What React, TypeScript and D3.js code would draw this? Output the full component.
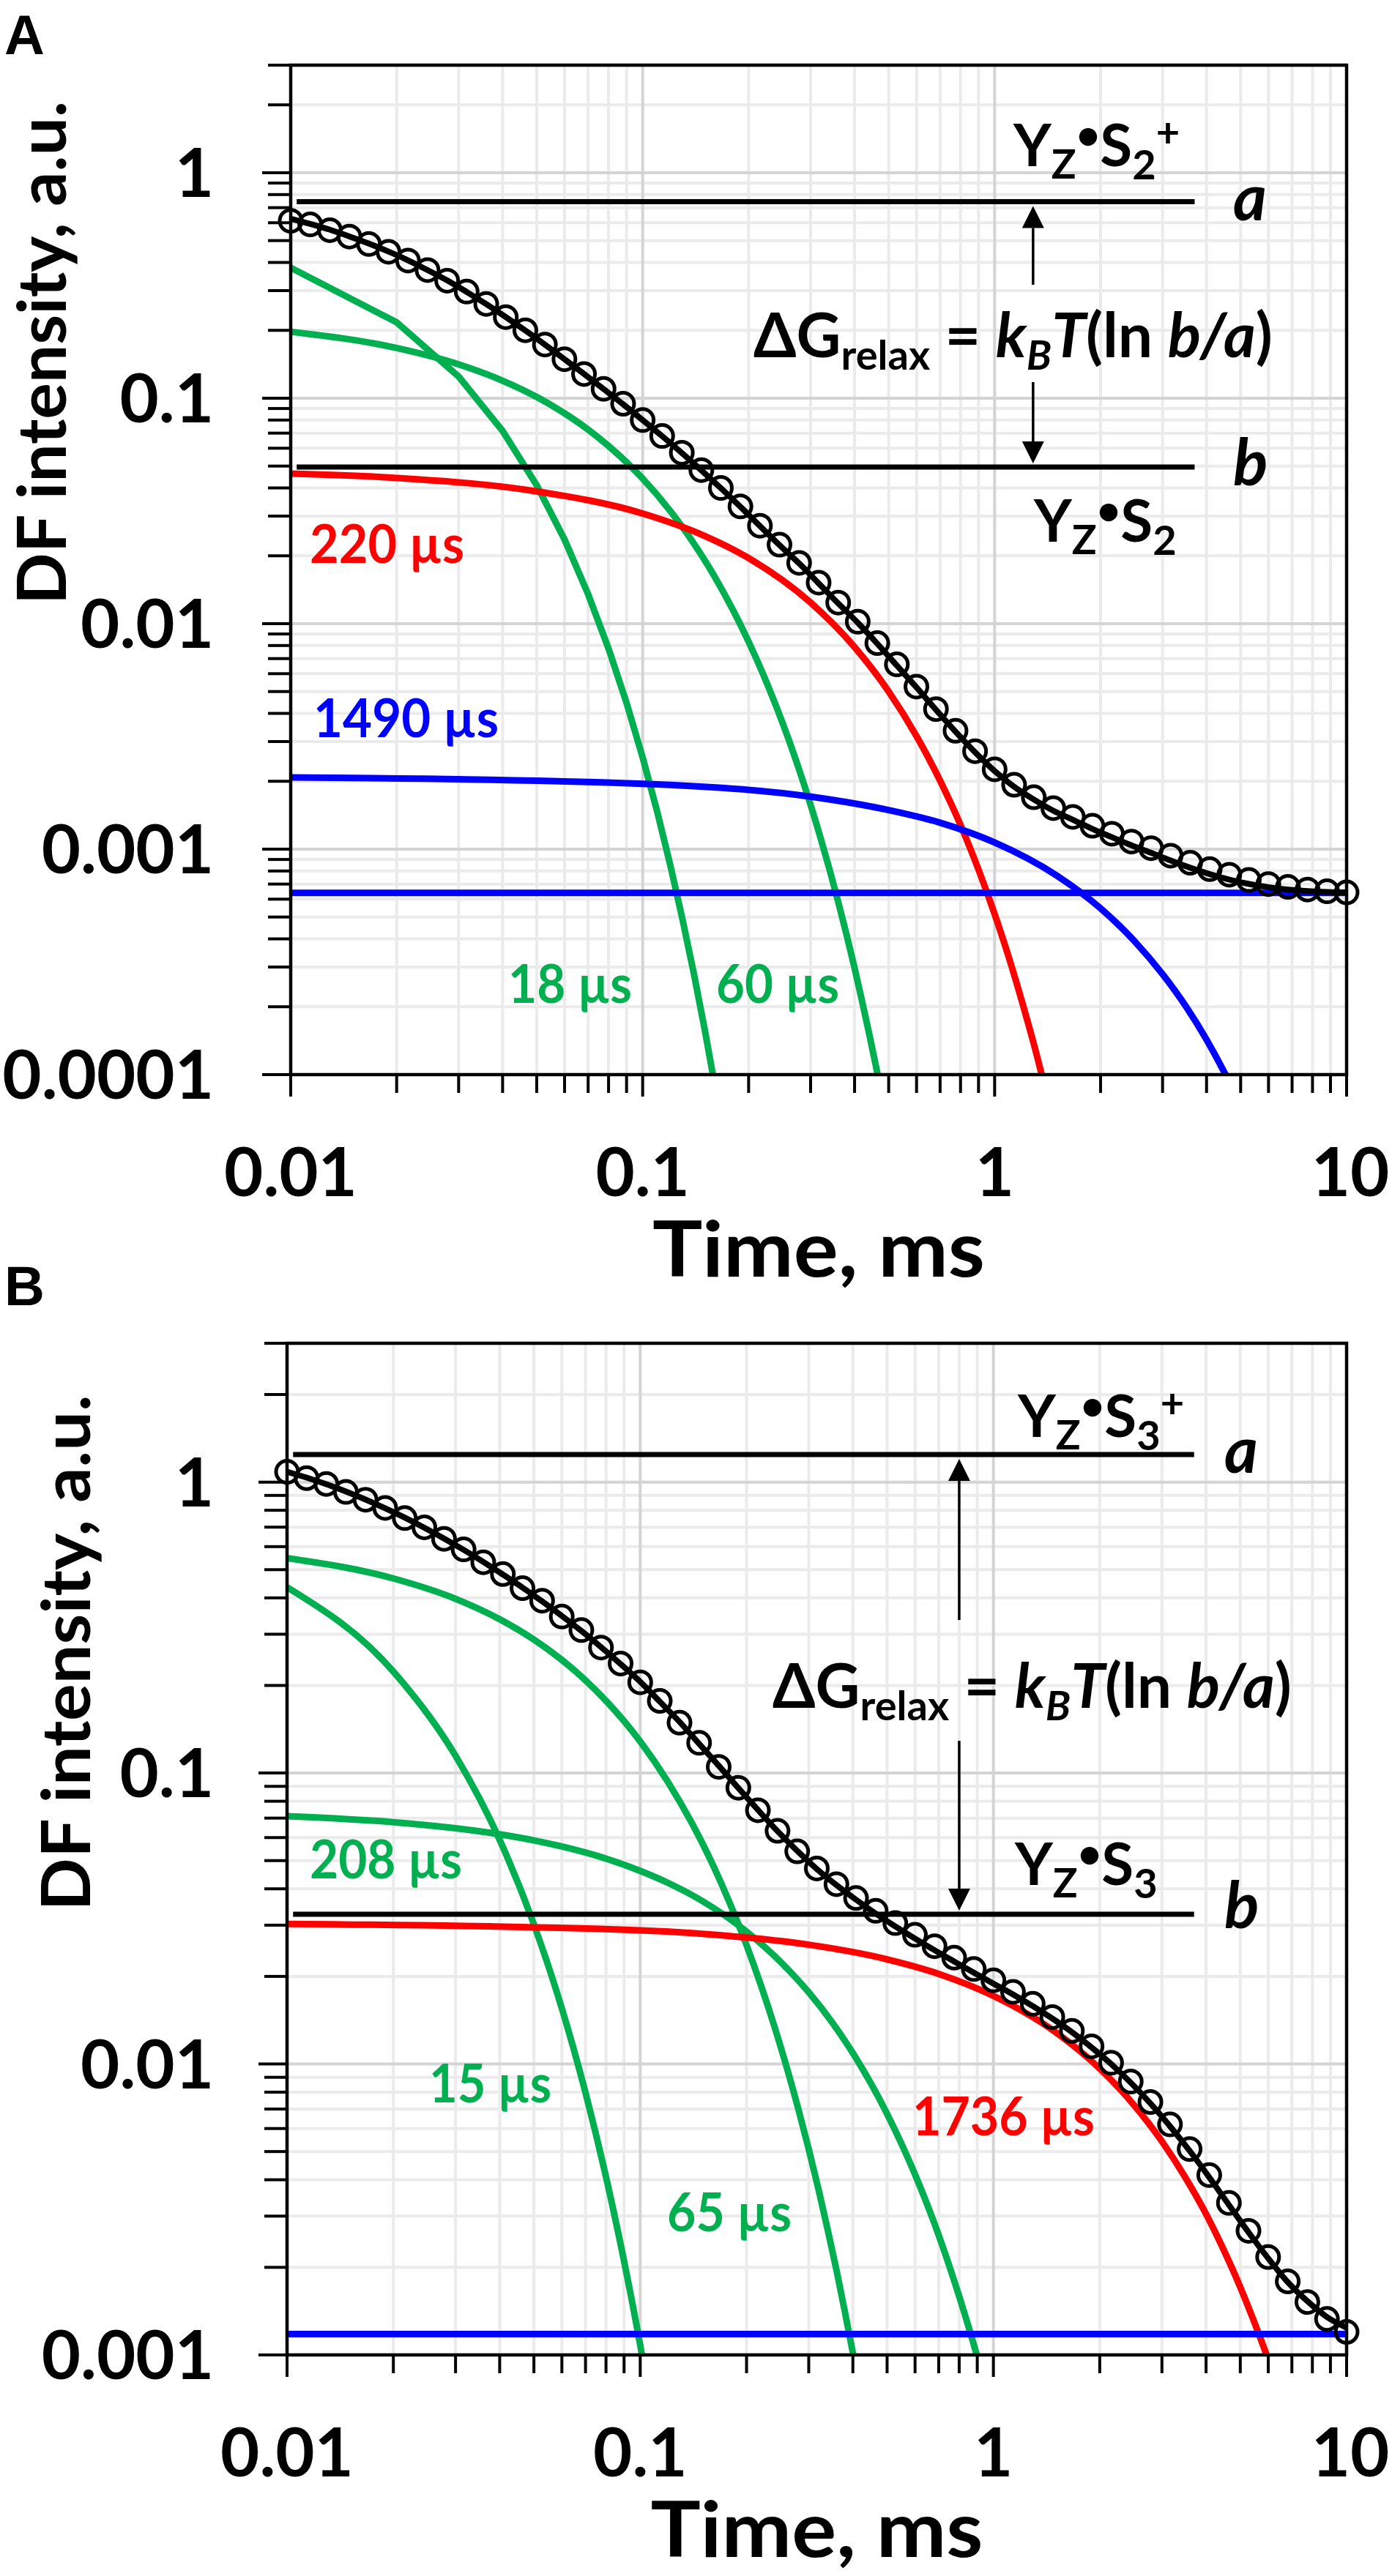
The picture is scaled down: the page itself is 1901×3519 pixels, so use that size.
import React, { useEffect } from 'react';
import * as d3 from 'd3';

const W = 1901;
const H = 3519;

// ---------- data ----------
const timeGrid = [0.01, 0.01136, 0.01292, 0.01468, 0.01668, 0.01896, 0.02154, 0.02448, 0.02783, 0.03162,
  0.03594, 0.04084, 0.04642, 0.05275, 0.05995, 0.06813, 0.07743, 0.08799, 0.1, 0.1136,
  0.1292, 0.1468, 0.1668, 0.1896, 0.2154, 0.2448, 0.2783, 0.3162, 0.3594, 0.4084,
  0.4642, 0.5275, 0.5995, 0.6813, 0.7743, 0.8799, 1.0, 1.136, 1.292, 1.468,
  1.668, 1.896, 2.154, 2.448, 2.783, 3.162, 3.594, 4.084, 4.642, 5.275,
  5.995, 6.813, 7.743, 8.799, 10.0];

const fitA = [0.625, 0.593, 0.559, 0.522, 0.485, 0.447, 0.409, 0.370, 0.333, 0.296,
  0.2615, 0.229, 0.1995, 0.1728, 0.149, 0.1282, 0.1098, 0.094, 0.0800, 0.0679,
  0.0572, 0.0479, 0.0399, 0.0330, 0.0271, 0.0223, 0.0185, 0.0151, 0.0123, 0.0101,
  0.00815, 0.00652, 0.00522, 0.00415, 0.00332, 0.00269, 0.00222, 0.00189, 0.00166, 0.00148,
  0.00135, 0.00123, 0.00113, 0.00104, 0.000963, 0.00089, 0.000827, 0.000775, 0.000733, 0.000701,
  0.000678, 0.000662, 0.000652, 0.000646, 0.000643];

const dataA = [0.612, 0.590, 0.556, 0.521, 0.483, 0.446, 0.408, 0.370, 0.332, 0.297,
  0.262, 0.229, 0.200, 0.173, 0.149, 0.128, 0.110, 0.0945, 0.0800, 0.0680,
  0.0573, 0.0480, 0.0400, 0.0331, 0.0272, 0.0224, 0.0186, 0.0152, 0.0124, 0.0102,
  0.0082, 0.0066, 0.00526, 0.00418, 0.00335, 0.00272, 0.00226, 0.00193, 0.00170, 0.00152,
  0.00139, 0.00127, 0.00117, 0.00108, 0.00101, 0.000935, 0.000870, 0.000815, 0.000770, 0.000730,
  0.000700, 0.000680, 0.000662, 0.000650, 0.000643];

const fitB = [1.085, 1.036, 0.983, 0.928, 0.871, 0.813, 0.755, 0.697, 0.640, 0.585,
  0.532, 0.481, 0.434, 0.389, 0.347, 0.308, 0.271, 0.237, 0.206, 0.176,
  0.150, 0.126, 0.106, 0.0888, 0.0747, 0.0631, 0.0540, 0.0468, 0.0412, 0.0367,
  0.0329, 0.0297, 0.0270, 0.0246, 0.0225, 0.0206, 0.0189, 0.01735, 0.01582, 0.01433,
  0.01287, 0.01141, 0.0100, 0.00863, 0.00732, 0.00611, 0.00503, 0.00408, 0.00328, 0.00264,
  0.00215, 0.00178, 0.00153, 0.00135, 0.00124];

const dataB = [1.085, 1.032, 0.985, 0.925, 0.870, 0.815, 0.752, 0.699, 0.638, 0.587,
  0.530, 0.483, 0.432, 0.391, 0.345, 0.310, 0.270, 0.238, 0.205, 0.177,
  0.149, 0.127, 0.105, 0.0890, 0.0745, 0.0633, 0.0538, 0.0470, 0.0415, 0.0372,
  0.0336, 0.0305, 0.0278, 0.0254, 0.0232, 0.0212, 0.0194, 0.0177, 0.0161, 0.0145,
  0.0130, 0.0115, 0.0101, 0.0087, 0.0074, 0.0062, 0.0051, 0.00415, 0.00333, 0.00267,
  0.00217, 0.00179, 0.00152, 0.00133, 0.00120];

// components, panel A
const compA18: [number, number][] = [[0.01, 0.379], [0.02, 0.217], [0.03, 0.1247], [0.04, 0.0716], [0.05, 0.0411],
  [0.06, 0.0236], [0.07, 0.0135], [0.08, 0.00775], [0.09, 0.00445], [0.1, 0.00255], [0.11, 0.001464],
  [0.12, 0.00084], [0.13, 0.000482], [0.14, 0.000277], [0.15, 0.000159], [0.16, 0.000091]];
const compA60: [number, number][] = [[0.01, 0.197], [0.02, 0.167], [0.03, 0.1413], [0.04, 0.1196], [0.05, 0.1013],
  [0.06, 0.0857], [0.07, 0.0726], [0.08, 0.0614], [0.09, 0.052], [0.1, 0.044], [0.12, 0.0315], [0.14, 0.0226],
  [0.16, 0.0162], [0.18, 0.0116], [0.2, 0.00832], [0.22, 0.00596], [0.24, 0.00427], [0.26, 0.00306],
  [0.28, 0.00219], [0.3, 0.00157], [0.32, 0.001125], [0.34, 0.000806], [0.36, 0.000578], [0.38, 0.000414],
  [0.4, 0.000297], [0.42, 0.000212], [0.44, 0.000152], [0.46, 0.000109], [0.48, 0.0000782]];
const compA220: [number, number][] = [[0.01, 0.0463], [0.02, 0.0443], [0.05, 0.0386], [0.1, 0.0308], [0.15, 0.0245],
  [0.2, 0.01954], [0.3, 0.0124], [0.4, 0.00787], [0.5, 0.005], [0.6, 0.00317], [0.7, 0.00201], [0.8, 0.00128],
  [0.9, 0.000811], [1.0, 0.000515], [1.1, 0.000327], [1.2, 0.000207], [1.3, 0.000132], [1.4, 0.0000836]];
const compA1490: [number, number][] = [[0.01, 0.00208], [0.1, 0.00195], [0.3, 0.00171], [0.5, 0.00149], [0.7, 0.00131],
  [1.0, 0.00107], [1.5, 0.000764], [2.0, 0.000546], [2.5, 0.00039], [3.0, 0.000279], [3.5, 0.0002],
  [4.0, 0.000143], [4.5, 0.000102], [5.0, 0.000073]];

// components, panel B
const compB15: [number, number][] = [[0.01, 0.435], [0.02, 0.2233], [0.03, 0.1146], [0.04, 0.0589], [0.05, 0.0302],
  [0.06, 0.01551], [0.07, 0.00796], [0.08, 0.00409], [0.09, 0.0021], [0.1, 0.00108], [0.11, 0.000553]];
const compB65: [number, number][] = [[0.01, 0.548], [0.02, 0.4664], [0.03, 0.397], [0.04, 0.3378], [0.05, 0.2875],
  [0.06, 0.2447], [0.07, 0.2083], [0.08, 0.1772], [0.09, 0.1508], [0.1, 0.1284], [0.12, 0.0929], [0.14, 0.0673],
  [0.16, 0.0488], [0.18, 0.0353], [0.2, 0.0256], [0.22, 0.01853], [0.24, 0.01342], [0.26, 0.00972],
  [0.28, 0.00704], [0.3, 0.0051], [0.32, 0.00369], [0.34, 0.00267], [0.36, 0.00194], [0.38, 0.0014],
  [0.4, 0.001016], [0.42, 0.000736]];
const compB208: [number, number][] = [[0.01, 0.0711], [0.02, 0.0678], [0.03, 0.0646], [0.04, 0.0616], [0.05, 0.0587],
  [0.06, 0.0559], [0.08, 0.0508], [0.1, 0.0461], [0.12, 0.0419], [0.15, 0.0363], [0.2, 0.0285], [0.25, 0.0224],
  [0.3, 0.01763], [0.35, 0.01387], [0.4, 0.0109], [0.5, 0.00674], [0.6, 0.00417], [0.7, 0.00258],
  [0.8, 0.00159], [0.9, 0.000986], [1.0, 0.00061]];
const compB1736: [number, number][] = [[0.01, 0.0303], [0.1, 0.0288], [0.2, 0.0272], [0.3, 0.0257], [0.5, 0.0229],
  [0.7, 0.0204], [1.0, 0.01714], [1.5, 0.01286], [2.0, 0.00964], [2.5, 0.00723], [3.0, 0.00542],
  [3.5, 0.00406], [4.0, 0.00305], [4.5, 0.00228], [5.0, 0.00171], [5.5, 0.00128], [6.0, 0.000963], [6.5, 0.000722]];

// levels and constants
const levelSpanT: [number, number] = [0.0104, 3.7];
const levelsA = [0.744, 0.0495];
const offsetA = 0.00064;
const arrowTA = 1.286;
const levelsB = [1.244, 0.0327];
const offsetB = 0.00118;
const arrowTB = 0.8;

const xDomain: [number, number] = [0.01, 10];
const yDomainA: [number, number] = [0.0001, 3];
const yDomainB: [number, number] = [0.001, 3];
const xTicks = [0.01, 0.1, 1, 10];
const xTickLabels = ['0.01', '0.1', '1', '10'];
const yTicksA = [1, 0.1, 0.01, 0.001, 0.0001];
const yTickLabelsA = ['1', '0.1', '0.01', '0.001', '0.0001'];
const yTicksB = [1, 0.1, 0.01, 0.001];
const yTickLabelsB = ['1', '0.1', '0.01', '0.001'];

const GREEN = '#00b050';
const RED = '#ff0000';
const BLUE = '#0000ff';
const FONT = "Lato, 'Liberation Sans', Arial, sans-serif";

type Layout = { left: number; right: number; top: number; bottom: number };

function minorValues(lo: number, hi: number) {
  const out: number[] = [];
  for (let e = Math.floor(Math.log10(lo)); e <= Math.ceil(Math.log10(hi)); e++) {
    for (let m = 2; m <= 9; m++) {
      const v = m * Math.pow(10, e);
      if (v > lo * 1.0001 && v < hi * 1.0001) out.push(v);
    }
  }
  return out;
}
function majorValues(lo: number, hi: number) {
  const out: number[] = [];
  for (let e = Math.ceil(Math.log10(lo) - 1e-9); e <= Math.floor(Math.log10(hi) + 1e-9); e++) out.push(Math.pow(10, e));
  return out;
}

type Comp = { pts: [number, number][]; color: string; linear?: boolean };

function Panel(props: {
  id: string; layout: Layout; yDomain: [number, number]; yTicks: number[]; yLabels: string[];
  fit: number[]; data: number[]; comps: Comp[]; levels: number[]; offset: number;
}) {
  const { id, layout, yDomain, yTicks, yLabels, fit, data, comps, levels, offset } = props;
  const x = d3.scaleLog().domain(xDomain).range([layout.left, layout.right]);
  const y = d3.scaleLog().domain(yDomain).range([layout.bottom, layout.top]);
  const xMinor = minorValues(xDomain[0], xDomain[1]);
  const xMajor = majorValues(xDomain[0], xDomain[1]);
  const yMinor = minorValues(yDomain[0], yDomain[1]);
  const yMajor = majorValues(yDomain[0], yDomain[1]);
  const lineMono = d3.line<[number, number]>().x(d => x(d[0])).y(d => y(d[1])).curve(d3.curveMonotoneX);
  const lineLin = d3.line<[number, number]>().x(d => x(d[0])).y(d => y(d[1]));
  const fitPts: [number, number][] = timeGrid.map((t, i) => [t, fit[i]]);
  const clipId = 'clip' + id;
  return (
    <g>
      <defs>
        <clipPath id={clipId}>
          <rect x={layout.left} y={layout.top} width={layout.right - layout.left} height={layout.bottom - layout.top} />
        </clipPath>
      </defs>
      {/* grid */}
      {xMinor.map(v => <line key={'gx' + v} x1={x(v)} x2={x(v)} y1={layout.top} y2={layout.bottom} stroke="#ebebeb" strokeWidth={4} />)}
      {yMinor.map(v => <line key={'gy' + v} y1={y(v)} y2={y(v)} x1={layout.left} x2={layout.right} stroke="#ebebeb" strokeWidth={4} />)}
      {xMajor.map(v => <line key={'Gx' + v} x1={x(v)} x2={x(v)} y1={layout.top} y2={layout.bottom} stroke="#d4d4d4" strokeWidth={4} />)}
      {yMajor.map(v => <line key={'Gy' + v} y1={y(v)} y2={y(v)} x1={layout.left} x2={layout.right} stroke="#d4d4d4" strokeWidth={4} />)}
      <g clipPath={`url(#${clipId})`}>
        {comps.map((c, i) => (
          <path key={'c' + i} d={(c.linear ? lineLin : lineMono)(c.pts) || ''} fill="none" stroke={c.color} strokeWidth={9} strokeLinejoin="round" />
        ))}
        <line x1={x(xDomain[0])} x2={x(xDomain[1])} y1={y(offset)} y2={y(offset)} stroke={BLUE} strokeWidth={9} />
        {levels.map((v, i) => (
          <line key={'lv' + i} x1={x(levelSpanT[0])} x2={x(levelSpanT[1])} y1={y(v)} y2={y(v)} stroke="#000" strokeWidth={7} />
        ))}
        <path d={lineMono(fitPts) || ''} fill="none" stroke="#000" strokeWidth={8} />
      </g>
      {timeGrid.map((t, i) => (
        <circle key={'p' + i} cx={x(t)} cy={y(data[i])} r={15} fill="none" stroke="#000" strokeWidth={5} />
      ))}
      {/* frame */}
      <rect x={layout.left} y={layout.top} width={layout.right - layout.left} height={layout.bottom - layout.top} fill="none" stroke="#000" strokeWidth={4.5} />
      {/* y ticks */}
      {yMinor.map(v => <line key={'ty' + v} x1={layout.left - 31} x2={layout.left} y1={y(v)} y2={y(v)} stroke="#000" strokeWidth={4} />)}
      <line x1={layout.left - 31} x2={layout.left} y1={layout.top} y2={layout.top} stroke="#000" strokeWidth={4} />
      {yMajor.map(v => <line key={'TY' + v} x1={layout.left - 39} x2={layout.left} y1={y(v)} y2={y(v)} stroke="#000" strokeWidth={4} />)}
      {/* x ticks */}
      {xMinor.map(v => <line key={'tx' + v} x1={x(v)} x2={x(v)} y1={layout.bottom} y2={layout.bottom + 25} stroke="#000" strokeWidth={4} />)}
      {xMajor.map(v => <line key={'TX' + v} x1={x(v)} x2={x(v)} y1={layout.bottom} y2={layout.bottom + 30} stroke="#000" strokeWidth={4} />)}
      {/* tick labels */}
      {yTicks.map((v, i) => (
        <text key={'ly' + v} x={292} y={y(v) + 33} textAnchor="end" fontSize={92} fontWeight={700} fontFamily={FONT}>{yLabels[i]}</text>
      ))}
      {xTicks.map((v, i) => (
        <text key={'lx' + v} x={x(v) + (i === 3 ? 5 : 0)} y={layout.bottom + 166} textAnchor="middle" fontSize={92} fontWeight={700} fontFamily={FONT}>{xTickLabels[i]}</text>
      ))}
      <text x={(layout.left + layout.right) / 2} y={layout.bottom + 276} textAnchor="middle" fontSize={106} fontWeight={700} fontFamily={FONT} textLength={454} lengthAdjust="spacingAndGlyphs">Time, ms</text>
    </g>
  );
}

function Arrow({ xp, y1, y2 }: { xp: number; y1: number; y2: number }) {
  // y1 = shaft end, y2 = tip
  const dir = y2 > y1 ? 1 : -1;
  const base = y2 - dir * 30;
  return (
    <g>
      <line x1={xp} x2={xp} y1={y1} y2={base} stroke="#000" strokeWidth={3.5} />
      <polygon points={`${xp},${y2} ${xp - 15},${base} ${xp + 15},${base}`} fill="#000" />
    </g>
  );
}

function Species({ x, y, sub, plus }: { x: number; y: number; sub: string; plus: boolean }) {
  return (
    <text x={x} y={y} fontSize={80} fontWeight={700} fontFamily={FONT} style={{ whiteSpace: 'pre' }}>
      <tspan>Y</tspan>
      <tspan fontSize={56} dy={17}>Z</tspan>
      <tspan fontSize={56} dy={-40}>•</tspan>
      <tspan fontSize={80} dy={23}>S</tspan>
      <tspan fontSize={56} dy={18}>{sub}</tspan>
      {plus ? <tspan fontSize={56} dy={-44}>+</tspan> : null}
    </text>
  );
}

function Eq({ x, y }: { x: number; y: number }) {
  return (
    <text x={x} y={y} fontSize={84} fontWeight={700} fontFamily={FONT} style={{ whiteSpace: 'pre' }}>
      <tspan>ΔG</tspan>
      <tspan fontSize={56} dy={17}>relax</tspan>
      <tspan dy={-17}> = </tspan>
      <tspan fontStyle="italic">k</tspan>
      <tspan fontStyle="italic" fontSize={56} dy={17}>B</tspan>
      <tspan fontStyle="italic" dy={-17}>T</tspan>
      <tspan>(ln </tspan>
      <tspan fontStyle="italic">b/a</tspan>
      <tspan>)</tspan>
    </text>
  );
}

function Label({ x, y, text, color, w }: { x: number; y: number; text: string; color: string; w: number }) {
  return (
    <text x={x} y={y} fontSize={72} fontWeight={700} fontFamily={FONT} fill={color} textLength={w} lengthAdjust="spacingAndGlyphs">{text}</text>
  );
}

const layoutA: Layout = { left: 397, right: 1839, top: 89, bottom: 1468 };
const layoutB: Layout = { left: 392, right: 1839, top: 1835, bottom: 3217 };

export default function App() {
  useEffect(() => {
    document.body.style.margin = '0';
  }, []);
  const xA = d3.scaleLog().domain(xDomain).range([layoutA.left, layoutA.right]);
  const yA = d3.scaleLog().domain(yDomainA).range([layoutA.bottom, layoutA.top]);
  const xB = d3.scaleLog().domain(xDomain).range([layoutB.left, layoutB.right]);
  const yB = d3.scaleLog().domain(yDomainB).range([layoutB.bottom, layoutB.top]);

  return (
    <svg width={W} height={H} viewBox={`0 0 ${W} ${H}`} style={{ display: 'block', background: '#fff' }} fontFamily={FONT}>
      <rect x={0} y={0} width={W} height={H} fill="#fff" />
      {/* Panel A */}
      <text x={6} y={74} fontSize={76} fontWeight={700} fontFamily="'Liberation Sans', Arial, sans-serif">A</text>
      <Panel id="A" layout={layoutA} yDomain={yDomainA} yTicks={yTicksA} yLabels={yTickLabelsA}
        fit={fitA} data={dataA} levels={levelsA} offset={offsetA}
        comps={[
          { pts: compA18, color: GREEN, linear: true },
          { pts: compA60, color: GREEN },
          { pts: compA220, color: RED },
          { pts: compA1490, color: BLUE },
        ]} />
      <text transform="translate(90,482) rotate(-90)" textAnchor="middle" fontSize={92} fontWeight={700} fontFamily={FONT} textLength={688} lengthAdjust="spacingAndGlyphs">DF intensity, a.u.</text>
      <Arrow xp={xA(arrowTA)} y1={389} y2={yA(levelsA[0]) + 6} />
      <Arrow xp={xA(arrowTA)} y1={522} y2={yA(levelsA[1]) - 5} />
      <Species x={1384} y={227} sub="2" plus={true} />
      <Species x={1412} y={740} sub="2" plus={false} />
      <Eq x={1029} y={488} />
      <text x={1684} y={301} fontSize={88} fontWeight={700} fontStyle="italic" fontFamily={FONT}>a</text>
      <text x={1684} y={663} fontSize={88} fontWeight={700} fontStyle="italic" fontFamily={FONT}>b</text>
      <Label x={423} y={769} text="220 µs" color={RED} w={211} />
      <Label x={428} y={1007} text="1490 µs" color={BLUE} w={253} />
      <Label x={694} y={1370} text="18 µs" color={GREEN} w={169} />
      <Label x={978} y={1370} text="60 µs" color={GREEN} w={168} />

      {/* Panel B */}
      <text x={6} y={1783} fontSize={76} fontWeight={700} fontFamily="'Liberation Sans', Arial, sans-serif">B</text>
      <Panel id="B" layout={layoutB} yDomain={yDomainB} yTicks={yTicksB} yLabels={yTickLabelsB}
        fit={fitB} data={dataB} levels={levelsB} offset={offsetB}
        comps={[
          { pts: compB15, color: GREEN },
          { pts: compB65, color: GREEN },
          { pts: compB208, color: GREEN },
          { pts: compB1736, color: RED },
        ]} />
      <text transform="translate(123,2258) rotate(-90)" textAnchor="middle" fontSize={92} fontWeight={700} fontFamily={FONT} textLength={705} lengthAdjust="spacingAndGlyphs">DF intensity, a.u.</text>
      <Arrow xp={xB(arrowTB)} y1={2213} y2={yB(levelsB[0]) + 6} />
      <Arrow xp={xB(arrowTB)} y1={2378} y2={yB(levelsB[1]) - 5} />
      <Species x={1390} y={1963} sub="3" plus={true} />
      <Species x={1386} y={2575} sub="3" plus={false} />
      <Eq x={1055} y={2333} />
      <text x={1672} y={2012} fontSize={88} fontWeight={700} fontStyle="italic" fontFamily={FONT}>a</text>
      <text x={1672} y={2634} fontSize={88} fontWeight={700} fontStyle="italic" fontFamily={FONT}>b</text>
      <Label x={423} y={2566} text="208 µs" color={GREEN} w={208} />
      <Label x={586} y={2872} text="15 µs" color={GREEN} w={167} />
      <Label x={911} y={3048} text="65 µs" color={GREEN} w={170} />
      <Label x={1246} y={2917} text="1736 µs" color={RED} w={249} />
    </svg>
  );
}
